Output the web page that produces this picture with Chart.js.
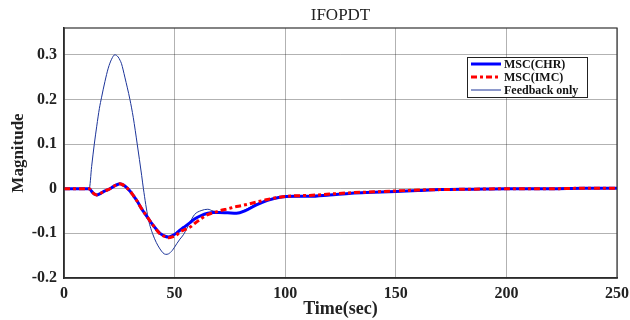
<!DOCTYPE html>
<html>
<head>
<meta charset="utf-8">
<script src="https://cdn.jsdelivr.net/npm/chart.js@4.4.1/dist/chart.umd.min.js"></script>
<style>
  html, body { margin: 0; padding: 0; background: #fff; }
  #wrap { width: 630px; height: 320px; }
</style>
</head>
<body>
<div id="wrap"><canvas id="myChart" width="630" height="320"></canvas></div>
<script>
// DATA
const timeSec = [0, 11.4, 12.5, 13.7, 14.8, 16, 17, 18.5, 20, 21.5, 23, 24.5, 25.3, 26, 27.5, 29.8, 31.3, 33.1, 35.1, 35.9, 38, 40, 43.4, 46, 47.2, 49, 51, 52.4, 54, 57, 59, 62, 65, 67.4, 70, 74, 78, 82, 87, 92, 97.6, 104, 111, 120, 130, 140, 150, 160, 170, 185, 200, 220, 235, 250];
const mscChr = [0, 0, -0.006, -0.012, -0.014, -0.012, -0.009, -0.005, -0.002, 0.002, 0.007, 0.010, 0.011, 0.010, 0.006, -0.005, -0.015, -0.028, -0.045, -0.051, -0.066, -0.080, -0.100, -0.107, -0.108, -0.105, -0.099, -0.093, -0.087, -0.076, -0.068, -0.060, -0.055, -0.053, -0.053, -0.054, -0.055, -0.049, -0.036, -0.026, -0.019, -0.017, -0.017, -0.014, -0.010, -0.008, -0.006, -0.004, -0.002, -0.001, 0, 0, 0.001, 0.001];
const mscImc = [0, 0, -0.006, -0.012, -0.014, -0.012, -0.009, -0.005, -0.002, 0.002, 0.007, 0.010, 0.011, 0.010, 0.006, -0.005, -0.015, -0.028, -0.045, -0.051, -0.066, -0.080, -0.101, -0.108, -0.110, -0.108, -0.103, -0.097, -0.093, -0.086, -0.078, -0.067, -0.058, -0.054, -0.050, -0.045, -0.040, -0.036, -0.030, -0.024, -0.019, -0.016, -0.015, -0.012, -0.009, -0.007, -0.005, -0.003, -0.002, -0.001, 0, 0, 0.001, 0.001];
const feedbackOnly = [0, 0, 0.05, 0.10, 0.14, 0.18, 0.205, 0.24, 0.27, 0.29, 0.30, 0.295, 0.288, 0.28, 0.25, 0.20, 0.16, 0.10, 0.03, 0, -0.065, -0.10, -0.135, -0.147, -0.146, -0.138, -0.123, -0.113, -0.103, -0.075, -0.058, -0.049, -0.046, -0.050, -0.052, -0.054, -0.055, -0.047, -0.034, -0.025, -0.019, -0.018, -0.017, -0.013, -0.010, -0.008, -0.006, -0.004, -0.002, -0.001, 0, 0, 0.001, 0.001];
const xTicks = [0, 50, 100, 150, 200, 250];
const yTicks = [-0.2, -0.1, 0, 0.1, 0.2, 0.3];
const chartTitle = "IFOPDT";

const toPoints = (ys) => timeSec.map((t, i) => ({ x: t, y: ys[i] }));
const serif = "'Liberation Serif', 'Times New Roman', serif";

// TITLE, FRAME, LEGEND
const framePlugin = {
  id: "frame",
  afterDraw(chart) {
    const { ctx, chartArea: a } = chart;
    ctx.save();
    ctx.strokeStyle = "#333";
    ctx.lineWidth = 1.2;
    ctx.strokeRect(a.left, a.top, a.right - a.left, a.bottom - a.top);

    ctx.fillStyle = "#222";
    ctx.font = "17px " + serif;
    ctx.textAlign = "center";
    ctx.textBaseline = "middle";
    ctx.fillText(chartTitle, (a.left + a.right) / 2, 16);

    // legend box
    const bx = 467, by = 57, bw = 120, bh = 40;
    ctx.fillStyle = "#fff";
    ctx.fillRect(bx, by, bw, bh);
    ctx.strokeStyle = "#222";
    ctx.lineWidth = 1;
    ctx.strokeRect(bx + 0.5, by + 0.5, bw, bh);
    const items = [
      { label: "MSC(CHR)", color: "#0000ff", width: 3, dash: [] },
      { label: "MSC(IMC)", color: "#ff0000", width: 3, dash: [6, 3, 3, 3] },
      { label: "Feedback only", color: "#1c3499", width: 1, dash: [] },
    ];
    ctx.font = "bold 12px " + serif;
    ctx.textAlign = "left";
    items.forEach((it, i) => {
      const y = by + 7 + i * 13;
      ctx.beginPath();
      ctx.setLineDash(it.dash);
      ctx.strokeStyle = it.color;
      ctx.lineWidth = it.width;
      ctx.moveTo(bx + 4, y);
      ctx.lineTo(bx + 34, y);
      ctx.stroke();
      ctx.setLineDash([]);
      ctx.fillStyle = "#111";
      ctx.fillText(it.label, bx + 37, y + 0.5);
    });
    ctx.restore();
  },
};

const ctx = document.querySelector("#myChart");
new Chart(ctx, {
  type: "line",
  data: {
    datasets: [
      {
        label: "Feedback only",
        data: toPoints(feedbackOnly),
        borderColor: "#1c3499",
        borderWidth: 1,
        order: 3,
      },
      {
        label: "MSC(CHR)",
        data: toPoints(mscChr),
        borderColor: "#0000ff",
        borderWidth: 3,
        order: 2,
      },
      {
        label: "MSC(IMC)",
        data: toPoints(mscImc),
        borderColor: "#ff0000",
        borderWidth: 3,
        borderDash: [6, 3, 3, 3],
        order: 1,
      },
    ],
  },
  options: {
    responsive: false,
    animation: false,
    layout: { padding: { left: 0, right: 13, top: 28, bottom: 0 } },
    elements: {
      point: { radius: 0 },
      line: { cubicInterpolationMode: "monotone", fill: false },
    },
    plugins: {
      legend: { display: false },
      tooltip: { enabled: false },
      title: { display: false },
    },
    scales: {
      x: {
        type: "linear",
        min: 0,
        max: 250,
        afterFit: (s) => { s.height = 42; s.paddingLeft = 0; s.paddingRight = 0; },
        afterBuildTicks: (s) => { s.ticks = xTicks.map((v) => ({ value: v })); },
        ticks: {
          color: "#222",
          padding: 6,
          maxRotation: 0,
          font: { family: serif, size: 16, weight: "bold" },
        },
        grid: { color: "rgba(0,0,0,0.3)", tickLength: 0 },
        border: { color: "#222", width: 1.5 },
        title: {
          display: true,
          text: "Time(sec)",
          color: "#222",
          font: { family: serif, size: 18, weight: "bold" },
          padding: { top: 0, bottom: 0 },
        },
      },
      y: {
        min: -0.2,
        max: 0.36,
        afterFit: (s) => { s.width = 64; s.paddingTop = 0; s.paddingBottom = 0; },
        afterBuildTicks: (s) => { s.ticks = yTicks.map((v) => ({ value: v })); },
        ticks: {
          color: "#222",
          padding: 7,
          font: { family: serif, size: 16, weight: "bold" },
          callback: (v) => (Math.abs(v) < 1e-9 ? "0" : String(Math.round(v * 10) / 10)),
        },
        grid: { color: "rgba(0,0,0,0.3)", tickLength: 0 },
        border: { color: "#222", width: 1.5 },
        title: {
          display: true,
          text: "Magnitude",
          color: "#222",
          font: { family: serif, size: 17, weight: "bold" },
          padding: { top: 8, bottom: 0 },
        },
      },
    },
  },
  plugins: [framePlugin],
});
</script>
</body>
</html>
